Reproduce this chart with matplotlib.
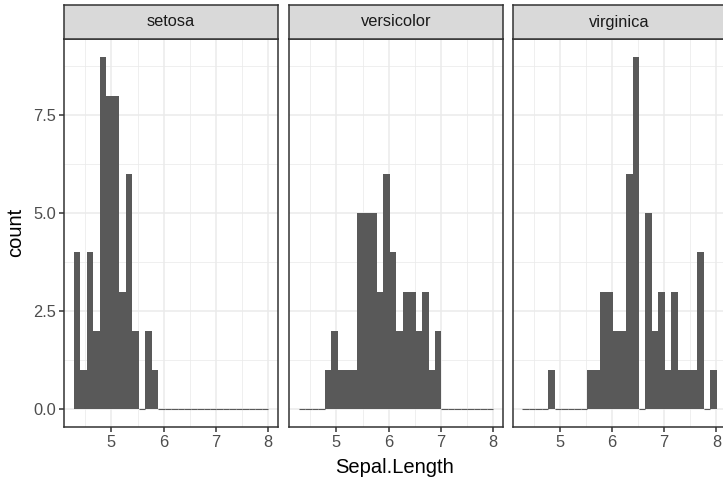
import matplotlib.pyplot as plt
import numpy as np

plt.rcParams['font.family'] = ['Liberation Sans', 'DejaVu Sans']

# iris Sepal.Length, 30 bins, counts per species
species = ['setosa', 'versicolor', 'virginica']
setosa_counts = [4, 1, 4, 2, 9, 8, 8, 3, 6, 2, 0, 2, 1, 0, 0,
                 0, 0, 0, 0, 0, 0, 0, 0, 0, 0, 0, 0, 0, 0, 0]
versicolor_counts = [0, 0, 0, 0, 1, 2, 1, 1, 1, 5, 5, 5, 3, 6, 4,
                     2, 3, 3, 2, 3, 1, 2, 0, 0, 0, 0, 0, 0, 0, 0]
virginica_counts = [0, 0, 0, 0, 1, 0, 0, 0, 0, 0, 1, 1, 3, 3, 2,
                    2, 6, 9, 0, 5, 2, 3, 1, 3, 1, 1, 1, 4, 0, 1]
counts = [setosa_counts, versicolor_counts, virginica_counts]

sl_min, sl_max = 4.3, 7.9
n_bins = 30
x_ticks = [5, 6, 7, 8]
y_ticks = [0, 2.5, 5.0, 7.5]
y_ticklabels = ['0.0', '2.5', '5.0', '7.5']

# bin edges the way ggplot2 picks them for bins = 30
bw = (sl_max - sl_min) / (n_bins - 1)
origin = bw / 2 + np.floor((sl_min - bw / 2) / bw) * bw
edges = origin + bw * np.arange(n_bins + 1)
span = edges[-1] - edges[0]
xlim = (edges[0] - 0.05 * span, edges[-1] + 0.05 * span)
ymax = max(max(c) for c in counts)
ylim = (-0.05 * ymax, 1.05 * ymax)

W, H = 723, 478
fig = plt.figure(figsize=(W / 100, H / 100), dpi=100)

panel_left = [64.3, 289.3, 512.7]
panel_w = 213.7
panel_top, panel_bot = 39, 426.7
strip_h = 34

dark = '#333333'
for i, name in enumerate(species):
    ax = fig.add_axes([panel_left[i] / W, (H - panel_bot) / H,
                       panel_w / W, (panel_bot - panel_top) / H])
    c = np.array(counts[i])
    ax.bar(edges[:-1], c, width=bw, align='edge', color='#595959', linewidth=0, zorder=3)
    # empty bins still leave a flat line at zero
    zero = c == 0
    ax.hlines(np.zeros(zero.sum()), edges[:-1][zero], edges[1:][zero],
              color='#595959', lw=0.8, zorder=3)

    ax.set_xlim(xlim)
    ax.set_ylim(ylim)
    ax.set_xticks(x_ticks)
    ax.set_xticks([4.5, 5.5, 6.5, 7.5], minor=True)
    ax.set_yticks(y_ticks)
    ax.set_yticks([1.25, 3.75, 6.25, 8.75], minor=True)
    ax.grid(which='major', color='#EBEBEB', lw=1.1)
    ax.grid(which='minor', color='#EBEBEB', lw=0.55)
    ax.set_axisbelow(True)
    for s in ax.spines.values():
        s.set_color(dark)
        s.set_linewidth(1.1)
    ax.tick_params(which='major', length=3.3, width=1.1, color=dark,
                   labelcolor='#4D4D4D', labelsize=11.8, pad=2.7)
    ax.tick_params(which='minor', length=0)
    if i == 0:
        ax.set_yticklabels(y_ticklabels)
    else:
        ax.tick_params(axis='y', which='both', left=False, labelleft=False)

    # facet strip
    st = fig.add_axes([panel_left[i] / W, (H - panel_top) / H,
                       panel_w / W, strip_h / H])
    st.set_facecolor('#D9D9D9')
    st.set_xticks([])
    st.set_yticks([])
    for s in st.spines.values():
        s.set_color(dark)
        s.set_linewidth(1.1)
    st.text(0.5, 0.5, name, ha='center', va='center', fontsize=11.8,
            color='#1A1A1A', transform=st.transAxes)

fig.text(16 / W, 1 - 232.8 / H, 'count', rotation=90, ha='center', va='center',
         fontsize=14.5)
fig.text(395 / W, 1 - 467.5 / H, 'Sepal.Length', ha='center', va='center',
         fontsize=14.5)

fig.savefig('out.png', dpi=100)
